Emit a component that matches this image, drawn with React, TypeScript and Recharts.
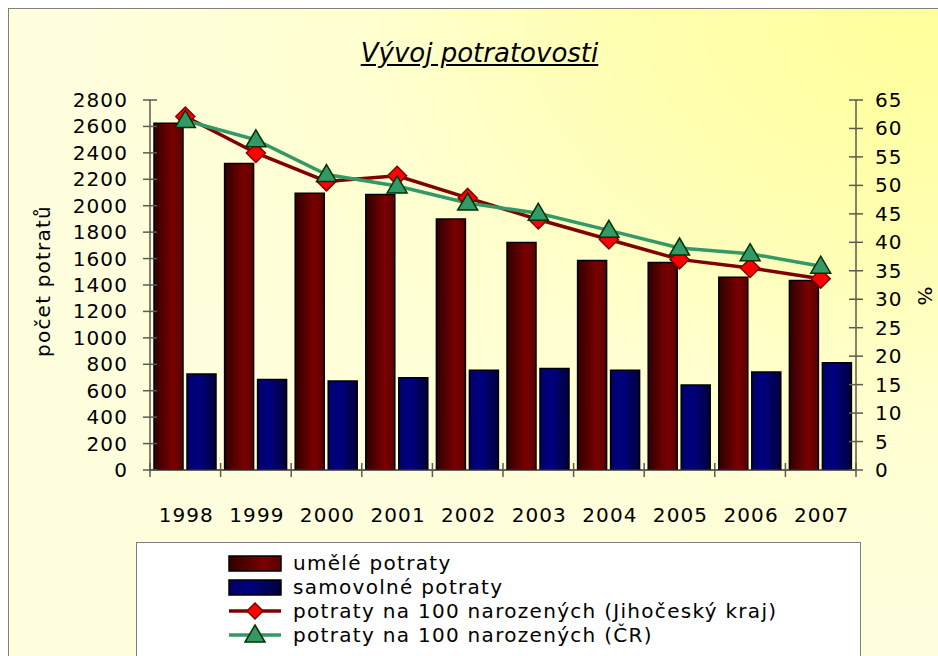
import React from 'react';
import { ComposedChart, Bar, Line, XAxis, YAxis } from 'recharts';

const years = ['1998', '1999', '2000', '2001', '2002', '2003', '2004', '2005', '2006', '2007'];
const umele = [2625, 2320, 2095, 2085, 1900, 1722, 1585, 1570, 1458, 1435];
const samovolne = [726, 684, 674, 699, 754, 769, 754, 643, 742, 812];
const jihocesky = [62.1, 55.7, 50.7, 51.7, 47.8, 44.0, 40.5, 37.0, 35.5, 33.6];
const cr = [61.4, 58.0, 51.9, 49.9, 46.9, 45.1, 42.1, 39.0, 38.0, 35.8];
const leftTicks = [0, 200, 400, 600, 800, 1000, 1200, 1400, 1600, 1800, 2000, 2200, 2400, 2600, 2800];
const rightTicks = [0, 5, 10, 15, 20, 25, 30, 35, 40, 45, 50, 55, 60, 65];

const seriesNames = [
  'umělé potraty',
  'samovolné potraty',
  'potraty na 100 narozených (Jihočeský kraj)',
  'potraty na 100 narozených (ČR)',
];

const data = years.map((y, i) => ({
  year: y,
  umele: umele[i],
  samovolne: samovolne[i],
  jihocesky: jihocesky[i],
  cr: cr[i],
}));

const FONT = '"DejaVu Sans", "Open Sans", sans-serif';
const AXIS = '#5a5a50';
const CHART_W = 930;
const CHART_H = 650;
const MARGIN = { top: 91, right: 23, bottom: 129, left: 81 };
const LEFT_AXIS_W = 60;
const RIGHT_AXIS_W = 60;
const PLOT_W = CHART_W - MARGIN.left - MARGIN.right - LEFT_AXIS_W - RIGHT_AXIS_W;
const BAND = PLOT_W / years.length;
const TICK_FS = 20;
const TICK_LS = 1.1;

const LeftTick = (props: any) => {
  const { x, y, payload } = props;
  return (
    <g>
      <line x1={x - 7} x2={x + 7} y1={y} y2={y} stroke={AXIS} strokeWidth={1.5} />
      <text x={x - 22} y={y} textAnchor="end" dominantBaseline="central" fontFamily={FONT} fontSize={TICK_FS} letterSpacing={TICK_LS} fill="#000">
        {payload.value}
      </text>
    </g>
  );
};

const RightTick = (props: any) => {
  const { x, y, payload } = props;
  return (
    <g>
      <line x1={x - 7} x2={x + 7} y1={y} y2={y} stroke={AXIS} strokeWidth={1.5} />
      <text x={x + 19} y={y} textAnchor="start" dominantBaseline="central" fontFamily={FONT} fontSize={TICK_FS} letterSpacing={TICK_LS} fill="#000">
        {payload.value}
      </text>
    </g>
  );
};

const BottomTick = (props: any) => {
  const { x, y, payload, index } = props;
  const lx = x - BAND / 2;
  const rx = x + BAND / 2;
  return (
    <g>
      <line x1={lx} x2={lx} y1={y - 7} y2={y + 7} stroke={AXIS} strokeWidth={1.5} />
      {index === years.length - 1 ? (
        <line x1={rx} x2={rx} y1={y - 7} y2={y + 7} stroke={AXIS} strokeWidth={1.5} />
      ) : null}
      <text x={x + 1} y={y + 45} textAnchor="middle" dominantBaseline="central" fontFamily={FONT} fontSize={TICK_FS} letterSpacing={TICK_LS} fill="#000">
        {payload.value}
      </text>
    </g>
  );
};

const diamondPath = (cx: number, cy: number, r: number) =>
  `M${cx},${cy - r}L${cx + r},${cy}L${cx},${cy + r}L${cx - r},${cy}Z`;
const trianglePath = (cx: number, cy: number) =>
  `M${cx},${cy - 10}L${cx + 10},${cy + 7}L${cx - 10},${cy + 7}Z`;

const DiamondDot = (props: any) => {
  const { cx, cy, index } = props;
  if (cx == null || cy == null) return <g key={`d${index}`} />;
  return <path key={`d${index}`} d={diamondPath(cx, cy, 9.5)} fill="#ff0000" stroke="#800000" strokeWidth={1.5} />;
};

const TriangleDot = (props: any) => {
  const { cx, cy, index } = props;
  if (cx == null || cy == null) return <g key={`t${index}`} />;
  return <path key={`t${index}`} d={trianglePath(cx, cy)} fill="#339966" stroke="#003300" strokeWidth={1.5} />;
};

const Gradients = () => (
  <defs>
    <linearGradient id="gMaroon" x1="0" y1="0" x2="1" y2="0">
      <stop offset="0%" stopColor="#2e0000" />
      <stop offset="65%" stopColor="#7a0000" />
      <stop offset="100%" stopColor="#5a0000" />
    </linearGradient>
    <linearGradient id="gBlue" x1="0" y1="0" x2="1" y2="0">
      <stop offset="0%" stopColor="#00006a" />
      <stop offset="40%" stopColor="#000080" />
      <stop offset="100%" stopColor="#00003a" />
    </linearGradient>
  </defs>
);

const LegendBox = () => {
  const rowY = [20, 44, 68, 92];
  return (
    <div
      style={{
        position: 'absolute',
        left: 127,
        top: 533,
        width: 725,
        height: 200,
        background: '#ffffff',
        border: '1px solid #808080',
        boxSizing: 'border-box',
      }}
    >
      <svg width={725} height={120} style={{ position: 'absolute', left: 0, top: 0 }}>
        <Gradients />
        <rect x={92} y={rowY[0] - 7} width={52} height={15} fill="url(#gMaroon)" stroke="#000" strokeWidth={1.5} />
        <rect x={92} y={rowY[1] - 7} width={52} height={15} fill="url(#gBlue)" stroke="#000" strokeWidth={1.5} />
        <line x1={92} x2={144} y1={rowY[2]} y2={rowY[2]} stroke="#800000" strokeWidth={3.5} />
        <path d={diamondPath(118, rowY[2], 8)} fill="#ff0000" stroke="#800000" strokeWidth={1.5} />
        <line x1={92} x2={144} y1={rowY[3]} y2={rowY[3]} stroke="#339966" strokeWidth={3.5} />
        <path d={trianglePath(118, rowY[3])} fill="#339966" stroke="#003300" strokeWidth={1.5} />
        {seriesNames.map((n, i) => (
          <text key={n} x={156} y={rowY[i]} dominantBaseline="central" fontFamily={FONT} fontSize={20} letterSpacing={1.3} fill="#000">
            {n}
          </text>
        ))}
      </svg>
    </div>
  );
};

export default function App() {
  return (
    <div style={{ position: 'fixed', left: 0, top: 0, width: 938, height: 656, overflow: 'hidden', background: '#fff' }}>
      <div
        style={{
          position: 'absolute',
          left: 8,
          top: 8,
          width: 940,
          height: 660,
          borderTop: '1px solid #7f7f7f',
          borderLeft: '1px solid #7f7f7f',
          background:
            'radial-gradient(ellipse 95% 95% at 100% 0%, #ffff99 0%, #ffffb0 35%, #ffffd0 65%, #ffffde 100%)',
          fontFamily: FONT,
        }}
      >
        <div
          style={{
            position: 'absolute',
            left: 0,
            width: 941,
            top: 27,
            textAlign: 'center',
            fontSize: 26,
            fontStyle: 'italic',
            textDecoration: 'underline',
            color: '#000',
            lineHeight: '34px',
          }}
        >
          Vývoj potratovosti
        </div>
        <ComposedChart
          width={CHART_W}
          height={CHART_H}
          data={data}
          margin={MARGIN}
          style={{ position: 'absolute', left: 0, top: 0 }}
        >
          <Gradients />
          <XAxis
            dataKey="year"
            xAxisId="x"
            height={60}
            interval={0}
            tickSize={0}
            tickMargin={0}
            tickLine={false}
            axisLine={{ stroke: '#303030', strokeWidth: 1.5 }}
            tick={<BottomTick />}
          />
          <YAxis
            yAxisId="l"
            orientation="left"
            width={LEFT_AXIS_W}
            domain={[0, 2800]}
            ticks={leftTicks}
            interval={0}
            tickSize={0}
            tickMargin={0}
            tickLine={false}
            axisLine={{ stroke: AXIS, strokeWidth: 1.5 }}
            tick={<LeftTick />}
            allowDataOverflow
          />
          <YAxis
            yAxisId="r"
            orientation="right"
            width={RIGHT_AXIS_W}
            domain={[0, 65]}
            ticks={rightTicks}
            interval={0}
            tickSize={0}
            tickMargin={0}
            tickLine={false}
            axisLine={{ stroke: AXIS, strokeWidth: 1.5 }}
            tick={<RightTick />}
            allowDataOverflow
          />
          <Bar
            dataKey="umele"
            name={seriesNames[0]}
            xAxisId="x"
            yAxisId="l"
            barSize={29}
            fill="url(#gMaroon)"
            stroke="#000"
            strokeWidth={1.5}
            isAnimationActive={false}
          />
          <Bar
            dataKey="samovolne"
            name={seriesNames[1]}
            xAxisId="x"
            yAxisId="l"
            barSize={29}
            fill="url(#gBlue)"
            stroke="#000"
            strokeWidth={1.5}
            isAnimationActive={false}
          />
          <Line
            type="linear"
            dataKey="jihocesky"
            name={seriesNames[2]}
            xAxisId="x"
            yAxisId="r"
            stroke="#800000"
            strokeWidth={3.5}
            dot={(p: any) => <DiamondDot {...p} key={`dd${p.index}`} />}
            activeDot={false}
            isAnimationActive={false}
          />
          <Line
            type="linear"
            dataKey="cr"
            name={seriesNames[3]}
            xAxisId="x"
            yAxisId="r"
            stroke="#339966"
            strokeWidth={3.5}
            dot={(p: any) => <TriangleDot {...p} key={`tt${p.index}`} />}
            activeDot={false}
            isAnimationActive={false}
          />
        </ComposedChart>
        <div
          style={{
            position: 'absolute',
            left: 34 - 90,
            top: 272 - 12,
            width: 180,
            textAlign: 'center',
            fontSize: 20,
            letterSpacing: 1.2,
            transform: 'rotate(-90deg)',
            color: '#000',
            lineHeight: '24px',
          }}
        >
          počet potratů
        </div>
        <div
          style={{
            position: 'absolute',
            left: 901,
            top: 275,
            width: 30,
            textAlign: 'center',
            fontSize: 20,
            transform: 'rotate(90deg)',
            color: '#000',
            lineHeight: '24px',
          }}
        >
          %
        </div>
        <LegendBox />
      </div>
    </div>
  );
}
